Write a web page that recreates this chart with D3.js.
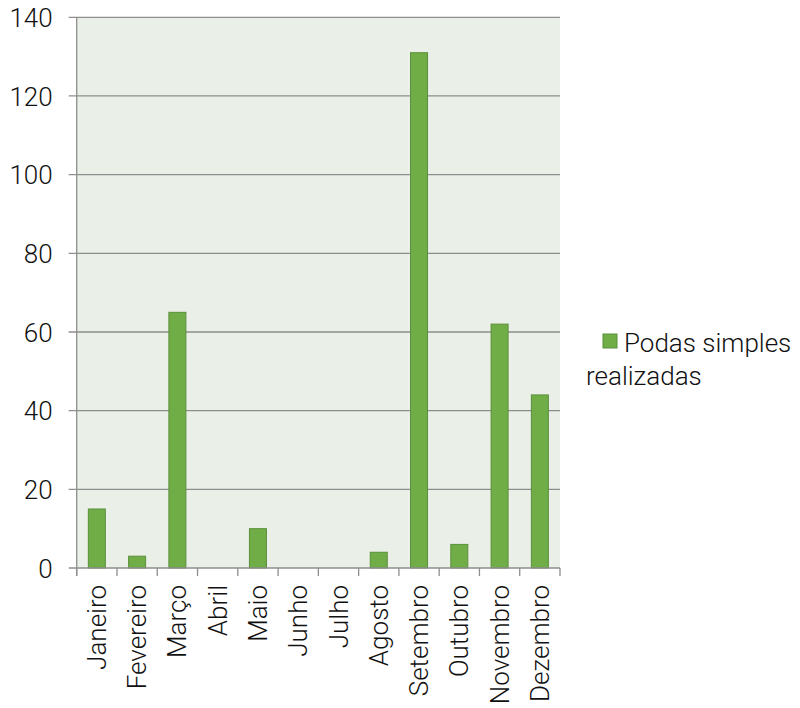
<!DOCTYPE html>
<html><head><meta charset="utf-8">
<script src="https://cdn.jsdelivr.net/npm/d3@7"></script>
<style>body{margin:0;background:#fff;} text{font-family:Roboto,"Noto Sans",sans-serif;font-weight:300;fill:#111;}</style>
</head><body><svg id="c" width="800" height="708"></svg>
<script>
const categories = ["Janeiro","Fevereiro","Março","Abril","Maio","Junho","Julho","Agosto","Setembro","Outubro","Novembro","Dezembro"];
const values = [15,3,65,0,10,0,0,4,131,6,62,44];
const yTicks = [0,20,40,60,80,100,120,140];
const seriesName = ["Podas simples","realizadas"];

const svg = d3.select("#c");
const L=76.7, R=560, T=17.3, B=568;
const xb = d3.scaleBand().domain(categories).range([L,R]);
const y = d3.scaleLinear().domain([0,140]).range([B,T]);
const FS = "26px";

svg.append("rect").attr("x",L).attr("y",T).attr("width",R-L).attr("height",B-T).attr("fill","#eaefe7");
// gridlines
svg.append("g").selectAll("line").data(yTicks.filter(d=>d>0)).join("line")
  .attr("x1",L-8).attr("x2",R).attr("y1",d=>y(d)).attr("y2",d=>y(d))
  .attr("stroke","#8e8e8e").attr("stroke-width",1.3);
// bars
svg.append("g").selectAll("rect").data(categories.map((c,i)=>({c,v:values[i]})).filter(d=>d.v>0)).join("rect")
  .attr("x",d=>xb(d.c)+xb.bandwidth()/2-8.5).attr("width",17)
  .attr("y",d=>y(d.v)).attr("height",d=>B-y(d.v))
  .attr("fill","#70ad47").attr("stroke","#5b8f3b").attr("stroke-width",1);
// y axis
const ya = svg.append("g").attr("transform",`translate(${L},0)`)
  .call(d3.axisLeft(y).tickValues(yTicks).tickSize(0).tickPadding(24));
ya.select(".domain").remove();
ya.selectAll("text").style("font-size",FS).attr("fill","#111").attr("dy","0.35em");
svg.append("line").attr("x1",L).attr("x2",L).attr("y1",T).attr("y2",B+8).attr("stroke","#8e8e8e").attr("stroke-width",1.3);
svg.append("line").attr("x1",L-8).attr("x2",R).attr("y1",B).attr("y2",B).attr("stroke","#8e8e8e").attr("stroke-width",1.3);
// x ticks at band boundaries
const bounds = categories.map(c=>xb(c)).concat([R]);
svg.append("g").selectAll("line").data(bounds).join("line")
  .attr("x1",d=>d).attr("x2",d=>d).attr("y1",B).attr("y2",B+8).attr("stroke","#8e8e8e").attr("stroke-width",1.3);
// x labels
svg.append("g").selectAll("text").data(categories).join("text")
  .attr("transform",d=>`translate(${xb(d)+xb.bandwidth()/2},585) rotate(-90)`)
  .attr("text-anchor","end").attr("dy","0.35em").style("font-size",FS).text(d=>d);
// legend
svg.append("rect").attr("x",603).attr("y",334).attr("width",14).attr("height",14)
  .attr("fill","#70ad47").attr("stroke","#5b8f3b").attr("stroke-width",1);
svg.append("g").selectAll("text").data(seriesName).join("text")
  .attr("x",(d,i)=>i===0?624:586).attr("y",(d,i)=>352+i*33).style("font-size",FS).text(d=>d);
</script></body></html>
